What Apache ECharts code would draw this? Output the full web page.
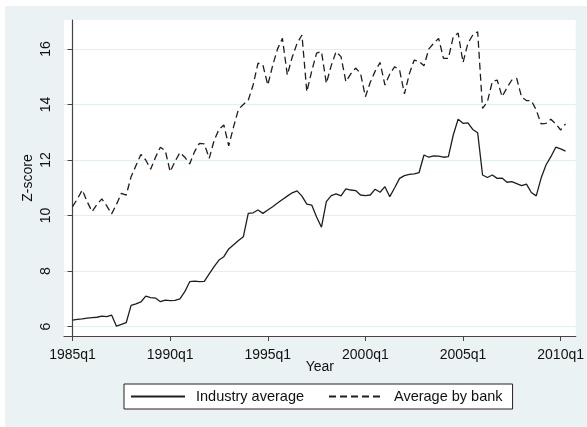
<!DOCTYPE html>
<html>
<head>
<meta charset="utf-8">
<script src="https://cdn.jsdelivr.net/npm/echarts@6/dist/echarts.min.js"></script>
<style>
  html, body { margin: 0; padding: 0; background: #fff; }
  #main { width: 587px; height: 427px; }
</style>
</head>
<body>
<div id="main"></div>
<script>
// quarters since 1985q1 (0 = 1985q1 ... 101 = 2010q2)
var quarters = [];
for (var q = 0; q < 102; q++) quarters.push(q);

var xTickValues = [0, 20, 40, 60, 80, 100];
var xTickLabels = ["1985q1", "1990q1", "1995q1", "2000q1", "2005q1", "2010q1"];
var yTickValues = [6, 8, 10, 12, 14, 16];

var industryAverage = [
  6.24, 6.26, 6.28, 6.31, 6.33, 6.34, 6.38, 6.36, 6.42, 6.02,
  6.08, 6.15, 6.77, 6.82, 6.89, 7.10, 7.05, 7.03, 6.90, 6.96,
  6.94, 6.95, 7.00, 7.26, 7.62, 7.64, 7.62, 7.63, 7.90, 8.16,
  8.40, 8.52, 8.80, 8.95, 9.10, 9.24, 10.08, 10.10, 10.20, 10.08,
  10.20, 10.32, 10.45, 10.58, 10.70, 10.82, 10.89, 10.70, 10.41, 10.38,
  9.95, 9.58, 10.50, 10.72, 10.78, 10.71, 10.96, 10.92, 10.90, 10.74,
  10.72, 10.74, 10.95, 10.84, 11.04, 10.68, 11.00, 11.34, 11.44, 11.48,
  11.50, 11.55, 12.18, 12.10, 12.15, 12.14, 12.10, 12.12, 12.90, 13.47,
  13.32, 13.34, 13.10, 12.98, 11.46, 11.37, 11.46, 11.34, 11.35, 11.20,
  11.22, 11.15, 11.08, 11.13, 10.83, 10.71, 11.35, 11.82, 12.12, 12.46,
  12.40, 12.32
];

var averageByBank = [
  10.32, 10.60, 10.92, 10.50, 10.14, 10.40, 10.60, 10.35, 10.06, 10.40,
  10.80, 10.74, 11.40, 11.80, 12.20, 12.00, 11.67, 12.10, 12.46, 12.34,
  11.58, 11.95, 12.27, 12.10, 11.86, 12.30, 12.60, 12.58, 12.06, 12.70,
  13.10, 13.26, 12.51, 13.20, 13.83, 14.00, 14.15, 14.70, 15.49, 15.42,
  14.70, 15.40, 16.00, 16.38, 15.06, 15.70, 16.20, 16.50, 14.46, 15.20,
  15.85, 15.90, 14.76, 15.40, 15.90, 15.72, 14.82, 15.10, 15.31, 15.12,
  14.28, 14.80, 15.20, 15.51, 14.70, 15.10, 15.36, 15.24, 14.38, 15.10,
  15.60, 15.55, 15.39, 16.00, 16.20, 16.38, 15.66, 15.66, 16.44, 16.57,
  15.51, 16.20, 16.50, 16.62, 13.86, 14.10, 14.82, 14.88, 14.28, 14.60,
  14.88, 14.94, 14.26, 14.14, 14.14, 13.80, 13.30, 13.32, 13.47, 13.30,
  13.08, 13.30
];

function pairs(xs, ys) {
  return xs.map(function (x, i) { return [x, ys[i]]; });
}

var chart = echarts.init(document.getElementById("main"));
var font = "'Liberation Sans', Arial, sans-serif";

var option = {
  animation: false,
  textStyle: { fontFamily: font },
  graphic: [
    {
      type: "rect",
      silent: true,
      z: -10,
      shape: { x: 5, y: 6, width: 582, height: 421 },
      style: { fill: "#eaf2f3" }
    }
  ],
  grid: {
    left: 64, right: 11, top: 20, bottom: 91,
    show: true, backgroundColor: "#ffffff", borderWidth: 0
  },
  xAxis: {
    type: "value",
    min: -1.75,
    max: 103.1,
    name: "Year",
    nameLocation: "middle",
    nameGap: 24,
    nameMoveOverlap: false,
    nameTextStyle: { fontSize: 14, color: "#111" },
    axisLine: { show: true, lineStyle: { color: "#444", width: 1.2 } },
    axisTick: { show: true, length: 5, customValues: xTickValues, lineStyle: { color: "#444" } },
    axisLabel: {
      customValues: xTickValues,
      margin: 12,
      fontSize: 14,
      color: "#111",
      formatter: function (v) { return xTickLabels[xTickValues.indexOf(v)] || ""; }
    },
    splitLine: { show: false }
  },
  yAxis: {
    type: "value",
    min: 5.665,
    max: 17.04,
    name: "Z-score",
    nameLocation: "middle",
    nameGap: 29,
    nameMoveOverlap: false,
    nameRotate: 90,
    nameTextStyle: { fontSize: 14, color: "#111" },
    axisLine: { show: true, lineStyle: { color: "#444", width: 1.2 } },
    axisTick: { show: true, length: 5, customValues: yTickValues, lineStyle: { color: "#444" } },
    axisLabel: {
      customValues: yTickValues,
      rotate: 90,
      margin: 11,
      fontSize: 14,
      color: "#111"
    },
    splitLine: { show: true, lineStyle: { color: "#e3eef0", width: 1 } }
  },
  legend: {
    left: 124,
    top: 384,
    orient: "horizontal",
    itemWidth: 54,
    itemHeight: 10,
    itemGap: 24,
    padding: [5, 10, 5, 6],
    backgroundColor: "#ffffff",
    borderColor: "#222",
    borderWidth: 1,
    borderRadius: 0,
    itemStyle: { opacity: 0 },
    textStyle: { fontSize: 14.5, color: "#111", padding: [0, 0, 0, 6] },
    data: ["Industry average", "Average by bank"]
  },
  series: [
    {
      name: "Industry average",
      type: "line",
      data: pairs(quarters, industryAverage),
      showSymbol: false,
      symbol: "none",
      lineStyle: { color: "#1e1e1e", width: 1.3 },
      itemStyle: { color: "#1e1e1e" }
    },
    {
      name: "Average by bank",
      type: "line",
      data: pairs(quarters, averageByBank),
      showSymbol: false,
      symbol: "none",
      lineStyle: { color: "#1e1e1e", width: 1.3, type: [7, 4] },
      itemStyle: { color: "#1e1e1e" }
    }
  ]
};

chart.setOption(option);
</script>
</body>
</html>
